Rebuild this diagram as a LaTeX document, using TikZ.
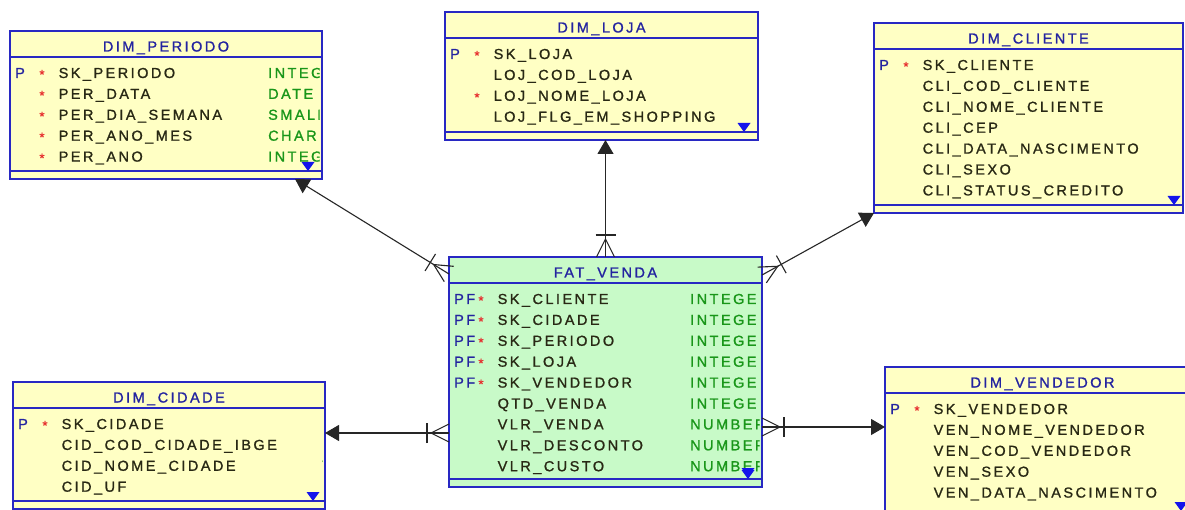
\documentclass[tikz,border=0pt]{standalone}
\usepackage{fontspec}
\newfontfamily\erfont{Liberation Sans}[LetterSpace=17, FakeBold=1.2]
\usetikzlibrary{arrows.meta,calc}

\definecolor{erblue}{RGB}{40,40,195}
\definecolor{ertitlec}{RGB}{35,35,160}
\definecolor{eryellow}{RGB}{255,255,196}
\definecolor{ergreen}{RGB}{200,250,200}
\definecolor{erred}{RGB}{230,45,45}
\definecolor{ertextc}{RGB}{40,40,20}
\definecolor{ertypec}{RGB}{25,150,25}
\definecolor{ertri}{RGB}{20,20,235}

\tikzset{
  ertab/.style={draw=erblue, line width=1.2pt, inner sep=0pt, outer sep=0pt, anchor=north west},
  ertxt/.style={inner sep=0pt, anchor=base west, font=\erfont\fontsize{14.5}{14.5}\selectfont},
  ertitle/.style={ertxt, anchor=base, text=ertitlec},
  erkey/.style={ertxt, text=ertitlec},
  erstar/.style={ertxt, anchor=base, text=erred, font=\erfont\fontsize{13}{13}\selectfont},
  ername/.style={ertxt, text=ertextc},
  ertype/.style={ertxt, text=ertypec},
  erline/.style={draw=erblue, line width=1.2pt},
  ermark/.style={fill=ertri},
  rel/.style={draw=black!85, line width=1.1pt},
  reltip/.style={rel, -{Triangle[length=14pt,width=16pt]}},
}

% table: id, left, top, right, separator y, fill, title, x of the small marker
\newcommand\ertable[8]{%
  \node[ertab, fill=#6, minimum width={#4pt-#2pt}, minimum height={#5pt-#3pt+8pt}] (#1) at (#2,#3) {};
  \draw[erline] ($(#1.north west)+(0,26)$) -- ($(#1.north east)+(0,26)$);
  \draw[erline] ($(#1.south west)+(0,-8)$) -- ($(#1.south east)+(0,-8)$);
  \node[ertitle] (#1-title) at ($(#1.north)+(0,20.5)$) {#7};
  \fill[ermark] ({#8-6.5},{#5-9}) -- ({#8+6.5},{#5-9}) -- ({#8},{#5}) -- cycle;
}

% field row: id, row index, key, star, column name
\newcommand\erfield[5]{%
  \coordinate (#1-r#2) at ($(#1.north west)+(0,{47+20.9*#2})$);
  \node[erkey] (#1-k#2) at ($(#1-r#2)+(5,0)$) {#3};
  \node[erstar] (#1-s#2) at ($(#1-r#2)+(32,1)$) {#4};
  \node[ername] (#1-n#2) at ($(#1-r#2)+(48.5,0)$) {#5};
}

% data type, cut off at the right border of its table
\newcommand\ertypecol[4]{%
  \begin{scope}
    \clip (#1.north west) rectangle ($(#1.south east)+(-2.5,0)$);
    \node[ertype] (#1-y#2) at ($(#1-r#2)+(#3,0)$) {#4};
  \end{scope}
}

% crow's foot with bar at the "many" end of a relation
\newcommand\crowfoot[2]{%
  \coordinate (#1-apex) at ($(#1)!18pt!(#2)$);
  \coordinate (#1-bar) at ($(#1)!22pt!(#2)$);
  \draw[rel] ($(#1)!9pt!90:(#2)$) -- (#1-apex) -- ($(#1)!9pt!-90:(#2)$);
  \draw[rel] ($(#1-bar)!10pt!90:(#2)$) -- ($(#1-bar)!10pt!-90:(#2)$);
}

\begin{document}
\begin{tikzpicture}[x=1pt, y=-1pt]
\useasboundingbox (0,0) rectangle (1185,510);
\fill[white] (0,0) rectangle (1185,510);
\clip (0,0) rectangle (1185,510);

% ---- dimension tables ----
\ertable{periodo}{10}{31}{322}{171}{eryellow}{DIM\_PERIODO}{308}
\erfield{periodo}{0}{P}{*}{SK\_PERIODO}
\erfield{periodo}{1}{}{*}{PER\_DATA}
\erfield{periodo}{2}{}{*}{PER\_DIA\_SEMANA}
\erfield{periodo}{3}{}{*}{PER\_ANO\_MES}
\erfield{periodo}{4}{}{*}{PER\_ANO}
\ertypecol{periodo}{0}{258}{INTEGER}
\ertypecol{periodo}{1}{258}{DATE}
\ertypecol{periodo}{2}{258}{SMALLINT}
\ertypecol{periodo}{3}{258}{CHAR}
\ertypecol{periodo}{4}{258}{INTEGER}

\ertable{loja}{445}{12}{758}{132}{eryellow}{DIM\_LOJA}{744}
\erfield{loja}{0}{P}{*}{SK\_LOJA}
\erfield{loja}{1}{}{}{LOJ\_COD\_LOJA}
\erfield{loja}{2}{}{*}{LOJ\_NOME\_LOJA}
\erfield{loja}{3}{}{}{LOJ\_FLG\_EM\_SHOPPING}

\ertable{cliente}{874}{23}{1183}{205}{eryellow}{DIM\_CLIENTE}{1174}
\erfield{cliente}{0}{P}{*}{SK\_CLIENTE}
\erfield{cliente}{1}{}{}{CLI\_COD\_CLIENTE}
\erfield{cliente}{2}{}{}{CLI\_NOME\_CLIENTE}
\erfield{cliente}{3}{}{}{CLI\_CEP}
\erfield{cliente}{4}{}{}{CLI\_DATA\_NASCIMENTO}
\erfield{cliente}{5}{}{}{CLI\_SEXO}
\erfield{cliente}{6}{}{}{CLI\_STATUS\_CREDITO}

\ertable{cidade}{13}{382}{325}{501}{eryellow}{DIM\_CIDADE}{313}
\erfield{cidade}{0}{P}{*}{SK\_CIDADE}
\erfield{cidade}{1}{}{}{CID\_COD\_CIDADE\_IBGE}
\erfield{cidade}{2}{}{}{CID\_NOME\_CIDADE}
\erfield{cidade}{3}{}{}{CID\_UF}
\ertypecol{cidade}{0}{309}{INTEGER}
\ertypecol{cidade}{1}{309}{INTEGER}
\ertypecol{cidade}{2}{309}{VARCHAR2}
\ertypecol{cidade}{3}{309}{CHAR}

\ertable{vendedor}{885}{367}{1200}{511}{eryellow}{DIM\_VENDEDOR}{1181}
\erfield{vendedor}{0}{P}{*}{SK\_VENDEDOR}
\erfield{vendedor}{1}{}{}{VEN\_NOME\_VENDEDOR}
\erfield{vendedor}{2}{}{}{VEN\_COD\_VENDEDOR}
\erfield{vendedor}{3}{}{}{VEN\_SEXO}
\erfield{vendedor}{4}{}{}{VEN\_DATA\_NASCIMENTO}

% ---- fact table ----
\ertable{fat}{449}{257}{762}{479}{ergreen}{FAT\_VENDA}{748}
\erfield{fat}{0}{PF}{*}{SK\_CLIENTE}
\erfield{fat}{1}{PF}{*}{SK\_CIDADE}
\erfield{fat}{2}{PF}{*}{SK\_PERIODO}
\erfield{fat}{3}{PF}{*}{SK\_LOJA}
\erfield{fat}{4}{PF}{*}{SK\_VENDEDOR}
\erfield{fat}{5}{}{}{QTD\_VENDA}
\erfield{fat}{6}{}{}{VLR\_VENDA}
\erfield{fat}{7}{}{}{VLR\_DESCONTO}
\erfield{fat}{8}{}{}{VLR\_CUSTO}
\ertypecol{fat}{0}{241}{INTEGER}
\ertypecol{fat}{1}{241}{INTEGER}
\ertypecol{fat}{2}{241}{INTEGER}
\ertypecol{fat}{3}{241}{INTEGER}
\ertypecol{fat}{4}{241}{INTEGER}
\ertypecol{fat}{5}{241}{INTEGER}
\ertypecol{fat}{6}{241}{NUMBER}
\ertypecol{fat}{7}{241}{NUMBER}
\ertypecol{fat}{8}{241}{NUMBER}
\fill[ermark] (741.5,468) -- (754.5,468) -- (748,477) -- cycle;

% ---- relations ----
\coordinate (fat-p) at ($(fat.north west)+(0,17)$);
\coordinate (periodo-f) at ($(periodo.south west)+(285,0)$);
\draw[reltip] (fat-p) -- (periodo-f);
\crowfoot{fat-p}{periodo-f}

\coordinate (fat-l) at (fat.north);
\coordinate (loja-f) at (fat.north |- loja.south);
\draw[reltip] (fat-l) -- (loja-f);
\crowfoot{fat-l}{loja-f}

\coordinate (fat-c) at ($(fat.north east)+(0,18)$);
\coordinate (cliente-f) at (cliente.south west);
\draw[reltip] (fat-c) -- (cliente-f);
\crowfoot{fat-c}{cliente-f}

\coordinate (fat-ci) at ($(fat.north west)+(0,176)$);
\coordinate (cidade-f) at (cidade.east |- fat-ci);
\draw[reltip] (fat-ci) -- (cidade-f);
\crowfoot{fat-ci}{cidade-f}

\coordinate (fat-v) at ($(fat.north east)+(0,170)$);
\coordinate (vendedor-f) at (vendedor.west |- fat-v);
\draw[reltip] (fat-v) -- (vendedor-f);
\crowfoot{fat-v}{vendedor-f}
\end{tikzpicture}
\end{document}
